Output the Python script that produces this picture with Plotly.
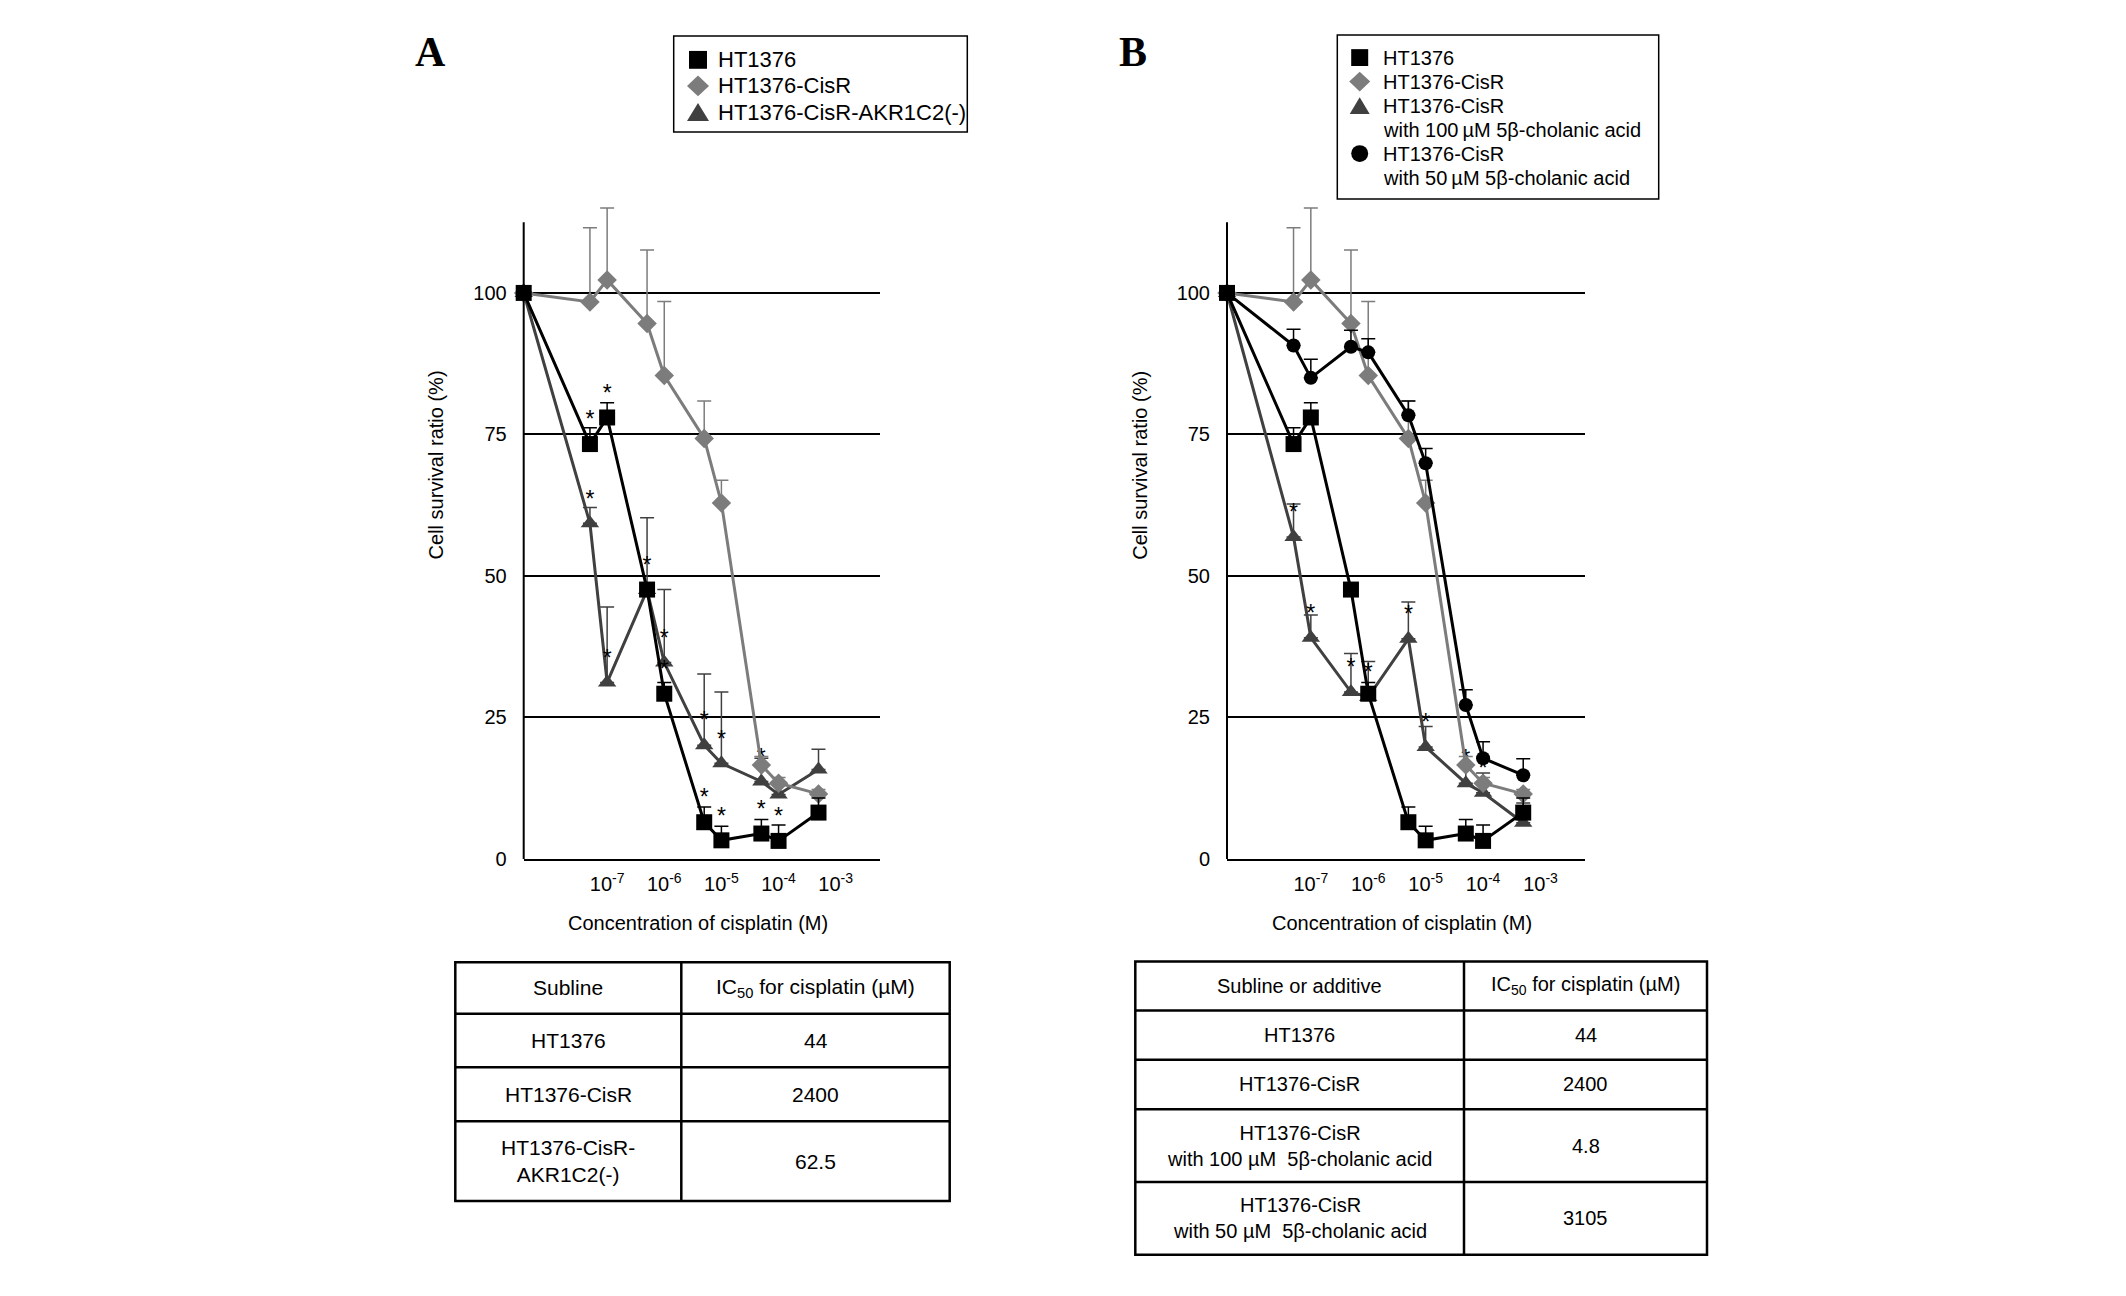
import plotly.graph_objects as go

W, H = 2126, 1296

# cisplatin concentrations (M); the untreated control sits on the left axis
CONC = [5e-8, 1e-7, 5e-7, 1e-6, 5e-6, 1e-5, 5e-5, 1e-4, 5e-4]
X_LOG_RANGE = [-8.46, -2.23]
XTICK_VALS = [1e-7, 1e-6, 1e-5, 1e-4, 1e-3]
XTICK_TEXT = ['10<sup>-7</sup>', '10<sup>-6</sup>', '10<sup>-5</sup>', '10<sup>-4</sup>', '10<sup>-3</sup>']
YTICK_VALS = [0, 25, 50, 75, 100]
Y_AXIS_TOP = 112.5

# cell survival ratio (%), first value = control; SD drawn upwards only
HT1376 = [100, 73.3, 78.0, 47.6, 29.2, 6.5, 3.3, 4.5, 3.2, 8.2]
HT1376_SD = [0, 2.9, 2.6, 1.0, 2.0, 2.7, 2.5, 2.5, 2.8, 2.6]
HT1376_SIG = [0, 1, 1, 1, 1, 1, 1, 1, 1, 0]

CISR = [100, 98.4, 102.3, 94.6, 85.4, 74.3, 62.9, 16.6, 13.4, 11.5]
CISR_SD = [0, 13.1, 12.7, 13.0, 13.1, 6.6, 4.0, 1.5, 1.0, 0.8]

AKR = [100, 59.3, 31.2, 47.5, 34.7, 20.1, 16.9, 13.7, 11.4, 15.8]
AKR_SD = [0, 2.8, 13.3, 12.8, 12.9, 12.6, 12.6, 4.1, 2.0, 3.6]
AKR_SIG = [0, 1, 1, 0, 1, 1, 1, 1, 0, 0]

CHOL100 = [100, 56.9, 39.1, 29.5, 28.6, 38.9, 19.8, 13.4, 11.7, 6.4]
CHOL100_SD = [0, 5.8, 4.0, 6.8, 6.3, 6.5, 3.6, 3.3, 3.5, 3.5]
CHOL100_SIG = [0, 1, 1, 1, 1, 1, 1, 1, 1, 0]

CHOL50 = [100, 90.7, 85.0, 90.5, 89.5, 78.4, 69.9, 27.2, 17.8, 14.8]
CHOL50_SD = [0, 2.9, 3.3, 2.9, 2.4, 2.5, 2.6, 2.7, 2.9, 2.9]

LEGEND_A = [('square', 'HT1376'), ('diamond', 'HT1376-CisR'), ('triangle', 'HT1376-CisR-AKR1C2(-)')]
LEGEND_B = [('square', 'HT1376'), ('diamond', 'HT1376-CisR'),
            ('triangle', 'HT1376-CisR<br>with 100\u2009µM 5β-cholanic acid'),
            ('circle', 'HT1376-CisR<br>with 50\u2009µM 5β-cholanic acid')]

TABLE_A_HEAD = ['Subline', 'IC<sub>50</sub> for cisplatin (µM)']
TABLE_A_ROWS = [['HT1376', '44'],
                ['HT1376-CisR', '2400'],
                ['HT1376-CisR-<br>AKR1C2(-)', '62.5']]
TABLE_B_HEAD = ['Subline or additive', 'IC<sub>50</sub> for cisplatin (µM)']
TABLE_B_ROWS = [['HT1376', '44'],
                ['HT1376-CisR', '2400'],
                ['HT1376-CisR<br>with 100 µM \u00a05β-cholanic acid', '4.8'],
                ['HT1376-CisR<br>with 50 µM \u00a05β-cholanic acid', '3105']]

FONT = 'Liberation Sans'
BLACK, GREY, DARK = '#000000', '#7c7c7c', '#404040'
SYMBOL_COLOR = {'square': BLACK, 'diamond': GREY, 'triangle': DARK, 'circle': BLACK}

# plot box in pixels (y of value 0 and of the axis top)
Y0_PX, YTOP_PX = 858.3, 216
PX_PER_UNIT = (Y0_PX - YTOP_PX) / Y_AXIS_TOP
Y_RANGE_MAX = 119


def px(x):
    return x / W


def py(y):
    return 1 - y / H


def add_series(fig, y, sd, name, symbol, color, size, ax, sig=None):
    xs = [10 ** X_LOG_RANGE[0]] + CONC
    xa, ya = ('x', 'y') if ax == 1 else ('x2', 'y2')
    fig.add_trace(go.Scatter(x=xs, y=y, mode='lines', line={'color': color, 'width': 3},
                             xaxis=xa, yaxis=ya, showlegend=False, hoverinfo='skip'))
    text = ['*' if s else '' for s in sig] if sig else None
    fig.add_trace(go.Scatter(x=xs, y=y, mode='markers+text' if sig else 'markers', name=name,
                             text=text, textposition='top center',
                             textfont={'size': 23, 'color': BLACK, 'family': FONT},
                             marker={'symbol': symbol, 'size': size, 'color': color},
                             error_y={'type': 'data', 'array': sd, 'arrayminus': [0] * len(sd),
                                      'symmetric': False, 'color': color, 'thickness': 1.5, 'width': 7},
                             xaxis=xa, yaxis=ya, showlegend=False, cliponaxis=False))


def legend_symbol(fig, kind, cx, cy, w, h):
    l, r, t, b = px(cx - w / 2), px(cx + w / 2), py(cy - h / 2), py(cy + h / 2)
    style = dict(xref='paper', yref='paper', fillcolor=SYMBOL_COLOR[kind], line={'width': 0})
    if kind == 'square':
        fig.add_shape(type='rect', x0=l, x1=r, y0=b, y1=t, **style)
    elif kind == 'circle':
        fig.add_shape(type='circle', x0=l, x1=r, y0=b, y1=t, **style)
    elif kind == 'diamond':
        fig.add_shape(type='path', path=f'M{px(cx)},{t} L{r},{py(cy)} L{px(cx)},{b} L{l},{py(cy)} Z', **style)
    else:
        fig.add_shape(type='path', path=f'M{l},{b} L{r},{b} L{px(cx)},{t} Z', **style)


def draw_legend(fig, box, sym_x, text_x, first_y, step, entries, size, sym_sizes):
    x0, y0, x1, y1 = box
    fig.add_shape(type='rect', xref='paper', yref='paper', x0=px(x0), x1=px(x1), y0=py(y1), y1=py(y0),
                  line={'color': BLACK, 'width': 1.5}, fillcolor='white')
    row = 0
    for kind, label in entries:
        w, h = sym_sizes[kind]
        legend_symbol(fig, kind, sym_x, first_y + row * step, w, h)
        for line in label.split('<br>'):
            fig.add_annotation(text=line, x=px(text_x), y=py(first_y + row * step), xref='paper',
                               yref='paper', xanchor='left', yanchor='middle', showarrow=False,
                               font={'size': size, 'color': BLACK, 'family': FONT})
            row += 1


def add_table(fig, x0, xs, x1, y0, heights, head, rows, size):
    ys = [y0]
    for h in heights:
        ys.append(ys[-1] + h)
    line = {'color': BLACK, 'width': 2.5}
    fig.add_shape(type='rect', xref='paper', yref='paper', x0=px(x0), x1=px(x1),
                  y0=py(ys[-1]), y1=py(y0), line=line)
    fig.add_shape(type='line', xref='paper', yref='paper', x0=px(xs), x1=px(xs),
                  y0=py(ys[-1]), y1=py(y0), line=line)
    for yy in ys[1:-1]:
        fig.add_shape(type='line', xref='paper', yref='paper', x0=px(x0), x1=px(x1),
                      y0=py(yy), y1=py(yy), line=line)
    for i, row in enumerate([head] + rows):
        yc = (ys[i] + ys[i + 1]) / 2
        for txt, xc in zip(row, [(x0 + xs) / 2, (xs + x1) / 2]):
            fig.add_annotation(text=txt, x=px(xc), y=py(yc), xref='paper', yref='paper',
                               xanchor='center', yanchor='middle', showarrow=False,
                               font={'size': size, 'color': BLACK, 'family': FONT})


fig = go.Figure()

# panel A
add_series(fig, AKR, AKR_SD, 'HT1376-CisR-AKR1C2(-)', 'triangle-up', DARK, 16, 1, AKR_SIG)
add_series(fig, CISR, CISR_SD, 'HT1376-CisR', 'diamond', GREY, 15, 1)
add_series(fig, HT1376, HT1376_SD, 'HT1376', 'square', BLACK, 16, 1, HT1376_SIG)

# panel B
add_series(fig, CHOL100, CHOL100_SD, 'HT1376-CisR with 100 µM 5β-cholanic acid', 'triangle-up',
           DARK, 16, 2, CHOL100_SIG)
add_series(fig, CISR, CISR_SD, 'HT1376-CisR', 'diamond', GREY, 15, 2)
add_series(fig, CHOL50, CHOL50_SD, 'HT1376-CisR with 50 µM 5β-cholanic acid', 'circle', BLACK, 14, 2)
add_series(fig, HT1376, HT1376_SD, 'HT1376', 'square', BLACK, 16, 2)

tickfont = {'size': 20, 'family': FONT, 'color': BLACK}
xaxis_style = dict(type='log', range=X_LOG_RANGE, tickvals=XTICK_VALS, ticktext=XTICK_TEXT,
                   showgrid=False, zeroline=False, showline=True, linecolor=BLACK, linewidth=2,
                   ticks='', ticklabelstandoff=6, tickfont=tickfont)
# range a bit above the drawn axis so the tall error bars are not cut
yaxis_style = dict(range=[0, Y_RANGE_MAX], tickvals=YTICK_VALS, showgrid=True, gridcolor=BLACK,
                   gridwidth=1.5, zeroline=False, showline=False, ticks='',
                   ticklabelstandoff=16, tickfont=tickfont,
                   domain=[py(Y0_PX), py(Y0_PX - Y_RANGE_MAX * PX_PER_UNIT)])

fig.update_layout(
    width=W, height=H, paper_bgcolor='white', plot_bgcolor='white',
    margin={'l': 0, 'r': 0, 't': 0, 'b': 0},
    font={'family': FONT, 'color': BLACK},
    showlegend=False,
    xaxis=dict(xaxis_style, domain=[px(515.7), px(871.7)], anchor='y'),
    yaxis=dict(yaxis_style, anchor='x'),
    xaxis2=dict(xaxis_style, domain=[px(1219), px(1576.7)], anchor='y2'),
    yaxis2=dict(yaxis_style, anchor='x2'),
)

# vertical axis lines, stopping at the axis top like the original
for xr, yr in [('x domain', 'y'), ('x2 domain', 'y2')]:
    fig.add_shape(type='line', xref=xr, yref=yr, x0=0, x1=0, y0=0, y1=Y_AXIS_TOP,
                  line={'color': BLACK, 'width': 2}, layer='above')

# legends (boxed, symbol only, as in the figure)
draw_legend(fig, (665.7, 28.3, 959.3, 125), 690, 708.3, 52.3, 26.3, LEGEND_A, 22,
            {'square': (18, 18), 'diamond': (22, 21), 'triangle': (22, 18)})
draw_legend(fig, (1329.3, 27.3, 1650.7, 192.7), 1351.7, 1373.3, 50, 24.2, LEGEND_B, 20,
            {'square': (17, 17), 'diamond': (21, 20), 'triangle': (20, 17), 'circle': (17, 17)})

# panel letters and axis titles
for letter, xl in [('A', 405), ('B', 1109)]:
    fig.add_annotation(text=f'<b>{letter}</b>', x=px(xl), y=py(44), xref='paper', yref='paper',
                       xanchor='left', yanchor='middle', showarrow=False,
                       font={'size': 42, 'family': 'Liberation Serif', 'color': BLACK})
for xt, xc in [(428.3, 690), (1131.7, 1394)]:
    fig.add_annotation(text='Cell survival ratio (%)', x=px(xt), y=py(461), xref='paper', yref='paper',
                       xanchor='center', yanchor='middle', textangle=-90, showarrow=False,
                       font={'size': 20, 'family': FONT, 'color': BLACK})
    fig.add_annotation(text='Concentration of cisplatin (M)', x=px(xc), y=py(923), xref='paper',
                       yref='paper', xanchor='center', yanchor='middle', showarrow=False,
                       font={'size': 20, 'family': FONT, 'color': BLACK})

add_table(fig, 447.3, 673.3, 941.7, 962.3, [52, 54, 54.4, 80.6], TABLE_A_HEAD, TABLE_A_ROWS, 21)
add_table(fig, 1127.3, 1456, 1699, 961.7, [49.3, 49.7, 50, 73.3, 73.3], TABLE_B_HEAD, TABLE_B_ROWS, 20)

fig.write_html('out.html')
